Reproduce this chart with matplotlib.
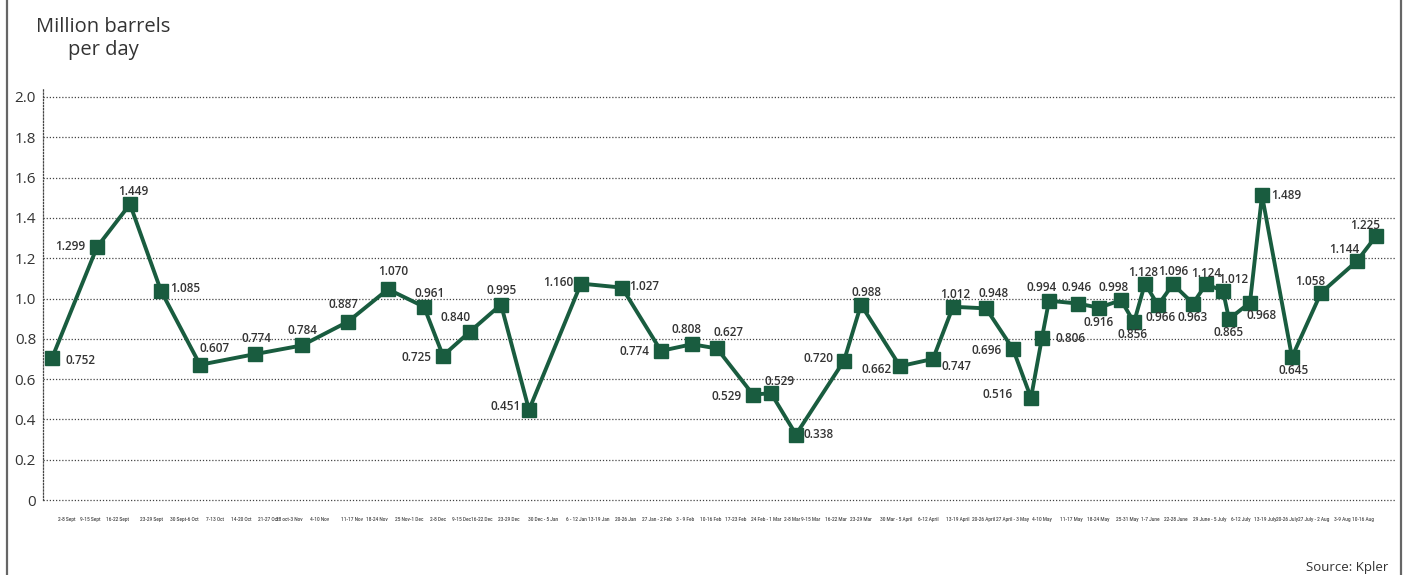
import matplotlib
matplotlib.use("Agg")
import matplotlib.pyplot as plt
from matplotlib.lines import Line2D

# weekly crude volumes, million b/d
# x position along the axis (as read off the original layout), plotted value, printed label
week_x = [52, 97, 130, 161, 200, 255, 302, 348, 388, 424, 443, 470, 501, 529, 581,
          622, 661, 692, 717, 753, 771, 796, 844, 861, 900, 933, 953, 986, 1013, 1031,
          1042, 1049, 1078, 1099, 1121, 1134, 1145, 1158, 1173, 1193, 1206, 1223, 1229,
          1250, 1262, 1292, 1321, 1357, 1376]
values = [0.704, 1.255, 1.468, 1.038, 0.671, 0.724, 0.767, 0.885, 1.046, 0.959, 0.716,
          0.836, 0.970, 0.447, 1.074, 1.054, 0.740, 0.773, 0.752, 0.523, 0.530, 0.325,
          0.691, 0.969, 0.664, 0.700, 0.959, 0.951, 0.749, 0.507, 0.806, 0.989, 0.975,
          0.954, 0.992, 0.882, 1.074, 0.967, 1.071, 0.975, 1.071, 1.038, 0.898, 0.980,
          1.512, 0.709, 1.028, 1.186, 1.309]
value_labels = ['0.752', '1.299', '1.449', '1.085', '0.607', '0.774', '0.784', '0.887',
                '1.070', '0.961', '0.725', '0.840', '0.995', '0.451', '1.160', '1.027',
                '0.774', '0.808', '0.627', '0.529', '0.529', '0.338', '0.720', '0.988',
                '0.662', '0.747', '1.012', '0.948', '0.696', '0.516', '0.806', '0.994',
                '0.946', '0.916', '0.998', '0.856', '1.128', '0.966', '1.096', '0.963',
                '1.124', '1.012', '0.865', '0.968', '1.489', '0.645', '1.058', '1.144',
                '1.225']

tick_x = [67, 90, 118, 151, 184, 215, 241, 268, 289, 320, 352, 377, 409, 438, 462, 482,
          509, 543, 576, 599, 626, 657, 685, 711, 736, 766, 792, 811, 836, 861, 896, 928,
          958, 984, 1013, 1042, 1071, 1098, 1127, 1150, 1176, 1210, 1241, 1265, 1287,
          1314, 1342, 1363]
tick_labels = ['2-8 Sept', '9-15 Sept', '16-22 Sept', '23-29 Sept', '30 Sept-6 Oct',
               '7-13 Oct', '14-20 Oct', '21-27 Oct', '28 oct-3 Nov', '4-10 Nov',
               '11-17 Nov', '18-24 Nov', '25 Nov-1 Dec', '2-8 Dec', '9-15 Dec',
               '16-22 Dec', '23-29 Dec', '30 Dec - 5 Jan', '6 - 12 Jan', '13-19 Jan',
               '20-26 Jan', '27 Jan - 2 Feb', '3 - 9 Feb', '10-16 Feb', '17-23 Feb',
               '24 Feb - 1 Mar', '2-8 Mar', '9-15 Mar', '16-22 Mar', '23-29 Mar',
               '30 Mar - 5 April', '6-12 April', '13-19 April', '20-26 April',
               '27 April - 3 May', '4-10 May', '11-17 May', '18-24 May', '25-31 May',
               '1-7 June', '22-28 June', '29 June - 5 July', '6-12 July', '13-19 July',
               '20-26 July', '27 July - 2 Aug', '3-9 Aug', '10-16 Aug']

y_ticks = [0, 0.2, 0.4, 0.6, 0.8, 1.0, 1.2, 1.4, 1.6, 1.8, 2.0]
y_tick_labels = ['0', '0.2', '0.4', '0.6', '0.8', '1.0', '1.2', '1.4', '1.6', '1.8', '2.0']

# where each value label sits relative to its marker (pixels, y down)
label_off = [(29, 2), (-27, -1), (3, -13), (24, -2), (15, -16), (1, -16), (1, -15), (-5, -17),
             (5, -18), (6, -13), (-27, 2), (-14, -14), (1, -14), (-23, -3), (-23, -1), (22, -1),
             (-26, 1), (-5, -15), (11, -16), (-26, 2), (9, -12), (23, 0), (-25, -2), (6, -12),
             (-23, 3), (23, 8), (2, -12), (8, -15), (-26, 1), (-33, -3), (29, 1), (-7, -13),
             (-1, -16), (0, 15), (-7, -13), (-1, 12), (-2, -11), (3, 12), (0, -13), (0, 14),
             (0, -11), (10, -11), (0, 13), (12, 13), (24, 0), (2, 13), (-11, -11), (-13, -12),
             (-11, -11)]

green = '#195c3f'
txt = '#333333'
plt.rcParams['font.family'] = ['Open Sans', 'DejaVu Sans']

W, H = 1405, 575
fig = plt.figure(figsize=(W / 100, H / 100), dpi=100)
x0, x1 = 43, 1395
ytop, ybot = 97, 500
ax = fig.add_axes([x0 / W, (H - ybot) / H, (x1 - x0) / W, (ybot - ytop) / H])

ax.plot(week_x, values, color=green, lw=2.8, marker='s', ms=9.5, zorder=3)
for x, v, s, (dx, dy) in zip(week_x, values, value_labels, label_off):
    ax.annotate(s, (x, v), xytext=(dx, -dy), textcoords='offset pixels',
                ha='center', va='center', fontsize=8.5, color=txt, fontweight='semibold')

ax.set_xlim(x0, x1)
ax.set_ylim(0, 2.0)
ax.set_yticks(y_ticks)
ax.set_yticklabels(y_tick_labels, fontsize=11, color=txt)
ax.set_xticks(tick_x)
ax.set_xticklabels(tick_labels, fontsize=3.4, color='#444444', fontweight='medium',
                   family=['Roboto', 'DejaVu Sans'])
ax.tick_params(axis='y', length=0, pad=5)
ax.tick_params(axis='x', length=0, pad=12)

for yv in y_ticks:
    ax.axhline(yv, color='#444444', lw=0.9, ls=(0, (1, 1.5)), zorder=1, clip_on=False)
for sp in ['top', 'right', 'bottom']:
    ax.spines[sp].set_visible(False)
ax.spines['left'].set_linestyle((0, (1, 1.5)))
ax.spines['left'].set_color('#444444')
ax.spines['left'].set_linewidth(0.9)
ax.spines['left'].set_bounds(0, 2.04)

fig.text(103 / W, 1 - 38 / H, 'Million barrels\nper day', ha='center', va='center',
         fontsize=14.5, color=txt, linespacing=1.2)
fig.text(1388 / W, 1 - 568 / H, 'Source: Kpler', ha='right', va='center',
         fontsize=9.5, color=txt)

# side rules of the panel
fig.add_artist(Line2D([7 / W, 7 / W], [0, 1], color='#666666', lw=1.6))
fig.add_artist(Line2D([1401 / W, 1401 / W], [0, 1], color='#666666', lw=1.6))

fig.savefig('out.png', dpi=100)
